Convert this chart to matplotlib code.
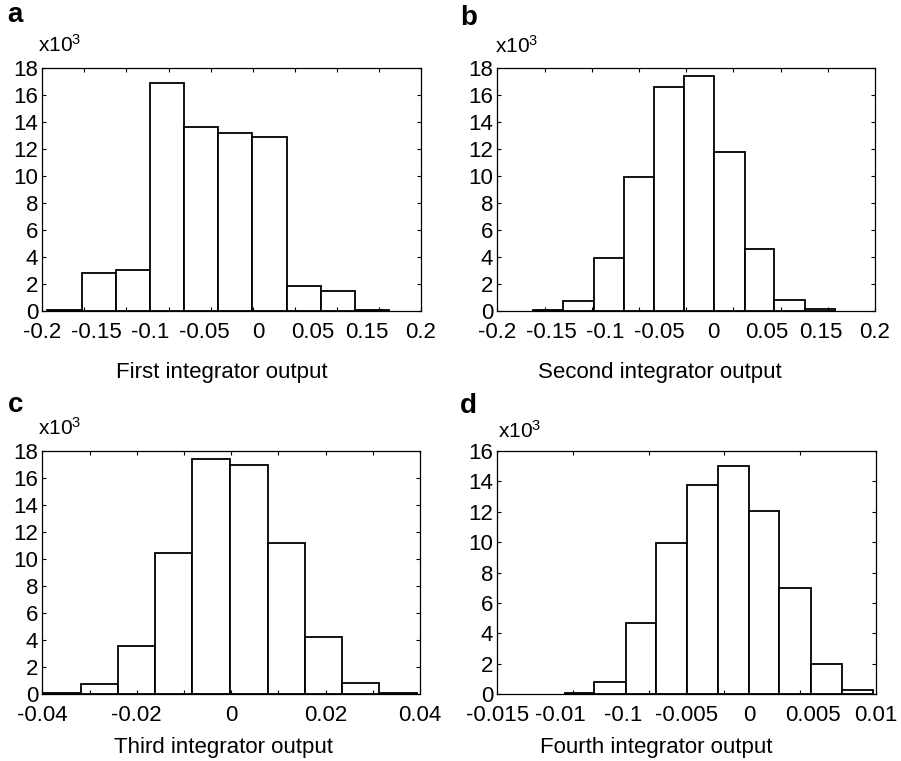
import numpy as np
import matplotlib
matplotlib.use("Agg")
import matplotlib.pyplot as plt

plt.rcParams['font.family'] = ['Liberation Sans', 'DejaVu Sans']
plt.rcParams['mathtext.default'] = 'regular'

# bin edges (data units) and counts (x10^3)
edges_a = [-0.195, -0.158, -0.122, -0.086, -0.050, -0.014, 0.022, 0.058, 0.094, 0.130, 0.166]
counts_a = [0.1, 2.8, 3.05, 16.9, 13.6, 13.2, 12.85, 1.85, 1.5, 0.08]

edges_b = [-0.162, -0.130, -0.098, -0.066, -0.034, -0.002, 0.030, 0.062, 0.093, 0.126, 0.158]
counts_b = [0.1, 0.75, 3.95, 9.9, 16.6, 17.35, 11.8, 4.55, 0.8, 0.17]

edges_c = [-0.0399, -0.0319, -0.0239, -0.0161, -0.0082, -0.0002, 0.0077, 0.0156, 0.0235, 0.0314, 0.0393]
counts_c = [0.07, 0.74, 3.6, 10.43, 17.38, 16.96, 11.22, 4.22, 0.81, 0.07]

edges_d = [-0.0105, -0.0086, -0.0065, -0.0045, -0.0025, -0.0004, 0.0016, 0.0036, 0.0057, 0.0078, 0.0098]
counts_d = [0.07, 0.79, 4.67, 9.93, 13.77, 15.0, 12.04, 6.97, 2.02, 0.29]

labels_ab = ['-0.2', '-0.15', '-0.1', '-0.05', '0', '0.05', '0.15', '0.2']
labels_c = ['-0.04', '-0.02', '0', '0.02', '0.04']
labels_d = ['-0.015', '-0.01', '-0.1', '-0.005', '0', '0.005', '0.01']

panels = [
    # letter, edges, counts, xlim, n tick marks, labels, ymax, xlabel
    ('a', edges_a, counts_a, (-0.2, 0.2), 10, labels_ab, 18, 'First integrator output'),
    ('b', edges_b, counts_b, (-0.2, 0.2), 9, labels_ab, 18, 'Second integrator output'),
    ('c', edges_c, counts_c, (-0.04, 0.04), 9, labels_c, 18, 'Third integrator output'),
    ('d', edges_d, counts_d, (-0.015, 0.01), 6, labels_d, 16, 'Fourth integrator output'),
]

W, H = 901, 761
fig = plt.figure(figsize=(W / 100, H / 100), dpi=100)

# axes boxes in pixels: left, top, right, bottom
boxes = [(42.3, 67.7, 421, 311), (497.3, 67.7, 875, 311),
         (42.3, 451, 420, 694.3), (497.3, 451, 875.7, 694.3)]
letter_pos = [(7, 22), (460, 25), (8, 412), (460, 413)]
mult_pos = [(38, 52), (495, 53), (38, 435), (498, 438)]
xlab_pos = [(222, 378), (660, 378), (224, 753), (656, 753)]

for i, (letter, edges, counts, xlim, nmarks, labels, ymax, xlabel) in enumerate(panels):
    l, t, r, b = boxes[i]
    ax = fig.add_axes([l / W, 1 - b / H, (r - l) / W, (b - t) / H])
    edges = np.array(edges)
    ax.bar(edges[:-1], counts, width=np.diff(edges), align='edge',
           color='white', edgecolor='black', linewidth=1.3)
    ax.set_xlim(*xlim)
    ax.set_ylim(0, ymax)

    ax.set_xticks(np.linspace(xlim[0], xlim[1], len(labels)))
    ax.set_xticklabels(labels)
    ax.set_xticks(np.linspace(xlim[0], xlim[1], nmarks), minor=True)
    ax.xaxis.remove_overlapping_locs = False
    ax.tick_params(axis='x', which='major', length=0, pad=8, labelsize=16)
    ax.tick_params(axis='x', which='minor', direction='in', length=3,
                   top=True, bottom=True, width=0.8)
    ax.set_yticks(np.arange(0, ymax + 1, 2))
    ax.tick_params(axis='y', direction='in', length=3, left=True, right=True,
                   pad=3, labelsize=16, width=0.8)
    for s in ax.spines.values():
        s.set_linewidth(0.9)

    fig.text(letter_pos[i][0] / W, 1 - letter_pos[i][1] / H, letter,
             fontsize=20, fontweight='bold', ha='left', va='baseline')
    fig.text(mult_pos[i][0] / W, 1 - mult_pos[i][1] / H, r'x10$^{3}$',
             fontsize=15, ha='left', va='baseline')
    fig.text(xlab_pos[i][0] / W, 1 - xlab_pos[i][1] / H, xlabel,
             fontsize=16, ha='center', va='baseline')

fig.savefig('out.png', dpi=100)
